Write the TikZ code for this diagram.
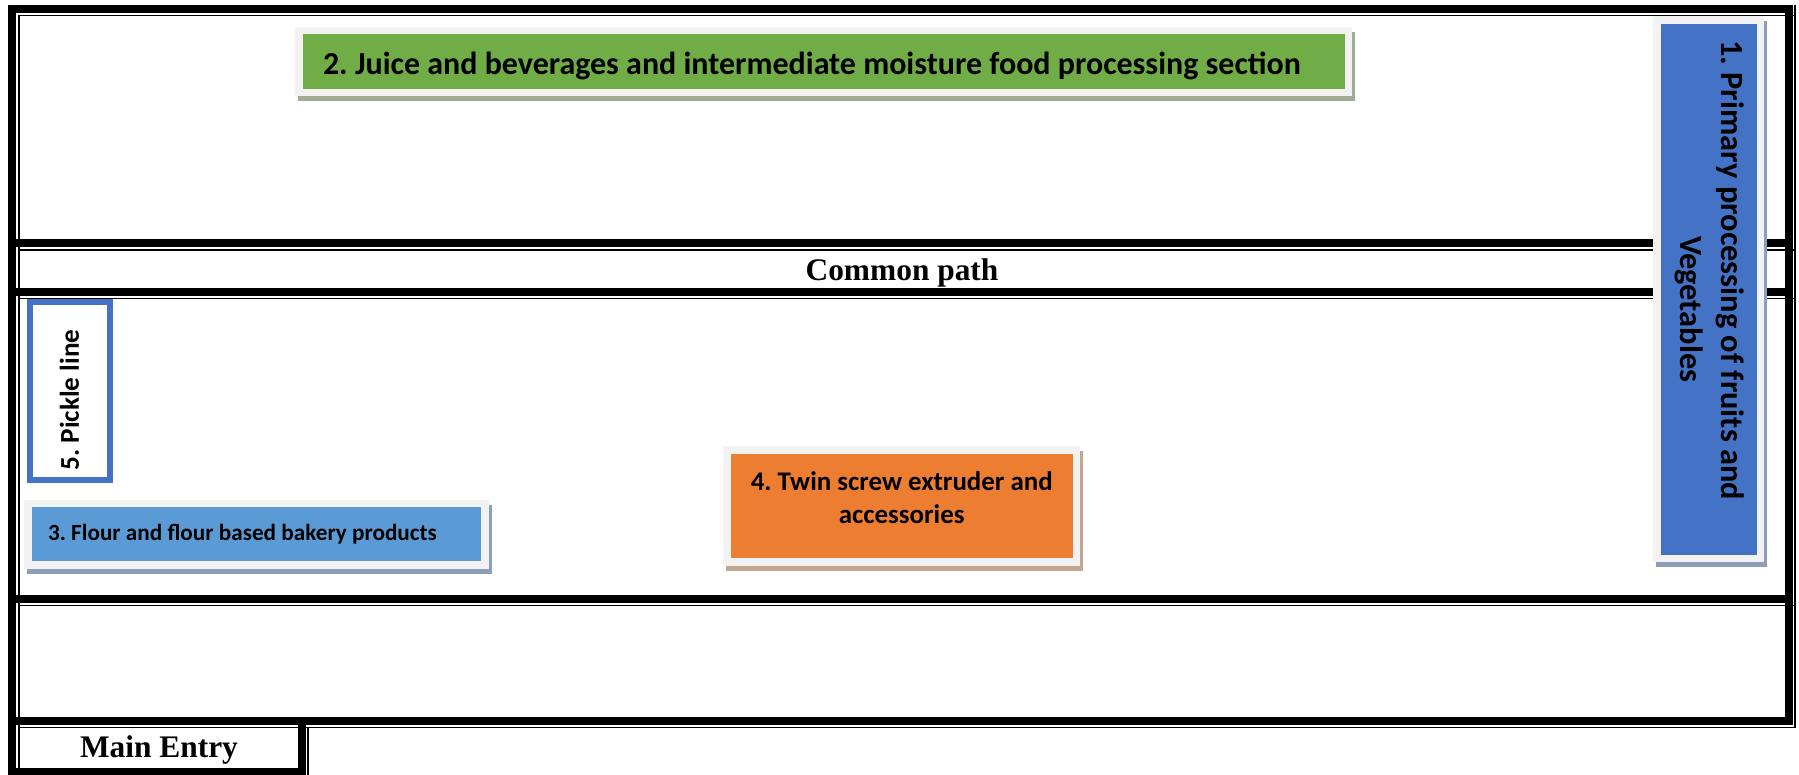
\documentclass[tikz,border=0pt]{standalone}
\usepackage{fontspec}
\usepackage{xcolor}
\usepackage{tikz}
\usetikzlibrary{shadows}
\newfontfamily\boxfont{Carlito}
\newfontfamily\cellfont{Liberation Serif}
\definecolor{framegrey}{rgb}{0.949, 0.949, 0.949}
\definecolor{primblue}{rgb}{0.267, 0.447, 0.769}
\definecolor{juicegreen}{rgb}{0.439, 0.678, 0.278}
\definecolor{flourblue}{rgb}{0.357, 0.608, 0.835}
\definecolor{extruderorange}{rgb}{0.929, 0.490, 0.192}
\definecolor{blueshadow}{rgb}{0.557, 0.616, 0.729}
\definecolor{greenshadow}{rgb}{0.627, 0.678, 0.573}
\definecolor{orangeshadow}{rgb}{0.761, 0.651, 0.565}

\tikzset{
  thickrule/.style={line width=4pt},
  thinrule/.style={line width=0.75pt},
  unitbox/.style={draw=framegrey, line width=3.75pt, inner sep=0pt,
    general shadow={fill=#1, draw=#1, shadow xshift=1.5pt, shadow yshift=-2.5pt}},
  cell/.style={font=\cellfont\bfseries\fontsize{15.7}{18}\selectfont, anchor=base}
}

\begin{document}
\frenchspacing
\begin{tikzpicture}[x=0.5pt,y=-0.5pt]
\useasboundingbox[fill=white] (0,0) rectangle (1799,775);
\draw[thickrule] (8,9) -- (1793,9);
\foreach \y in {243.5,292,599,721}
  \draw[thickrule] (16,\y) -- (1785,\y);
\draw[thickrule] (12,5) -- (12,775);
\draw[thickrule] (1789,5) -- (1789,725);
\draw[thickrule] (8,771.5) -- (306,771.5);
\draw[thickrule] (302,721) -- (302,775);
\foreach \y in {15.5,250,298.5,605.5,727.5}
  \draw[thinrule] (18,\y) -- (1795,\y);
\draw[thinrule] (19,15.5) -- (19,775);
\draw[thinrule] (1795,5) -- (1795,727.5);
\draw[thinrule] (308,727.5) -- (308,775);

\node[cell] (common) at (902,281) {Common path};
\node[cell] (entry) at (159,757) {Main Entry};

\node[unitbox=greenshadow, fill=juicegreen, minimum width=524.75pt, minimum height=31pt,
  font=\boxfont\bfseries\fontsize{16}{19.5}\selectfont] (juice) at (823.75,61.5)
  {\raisebox{-2.25pt}[\height][\depth]{\makebox[500.75pt][l]{2. Juice and beverages and intermediate moisture food processing section}}};
\node[unitbox=blueshadow, fill=primblue, minimum width=51.75pt, minimum height=269.25pt,
  font=\boxfont\bfseries\fontsize{16.2}{20.5}\selectfont] (primary) at (1708.75,289.25)
  {\rotatebox{-90}{\begin{tabular}{@{}c@{}}1. Primary processing of fruits and\rule{19pt}{0pt}\\
   \hspace*{20pt}Vegetables\end{tabular}}};
\node[unitbox=blueshadow, fill=flourblue, minimum width=228.5pt, minimum height=30.75pt,
  font=\boxfont\bfseries\fontsize{11.6}{14}\selectfont] (flour) at (256.5,534.25)
  {\makebox[208.5pt][l]{3. Flour and flour based bakery products}};
\node[unitbox=orangeshadow, fill=extruderorange, minimum width=174.75pt, minimum height=56pt,
  align=center, font=\boxfont\bfseries\fontsize{13.45}{16.5}\selectfont] (extruder) at (901.75,506)
  {4. Twin screw extruder and\\accessories\rule[-8pt]{0pt}{0pt}};
\node[draw=primblue, fill=white, line width=3pt, rotate=90, inner sep=0pt,
  minimum width=89pt, minimum height=40pt,
  font=\boxfont\bfseries\fontsize{13.6}{16}\selectfont] (pickle) at (69.5,391)
  {5. Pickle line\rule{9pt}{0pt}};
\end{tikzpicture}
\end{document}
